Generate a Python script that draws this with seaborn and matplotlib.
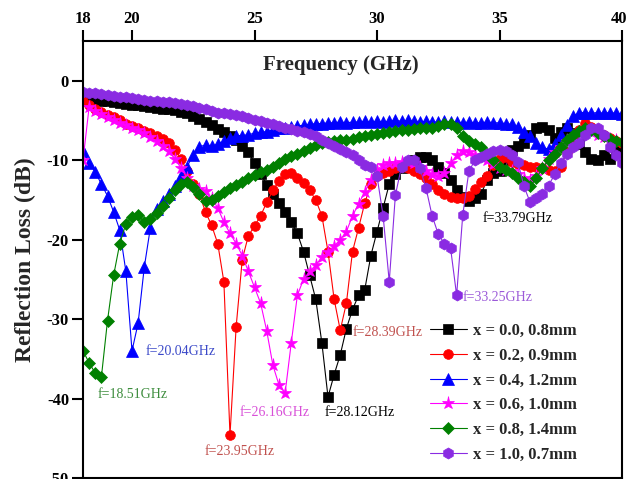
import numpy as np
import matplotlib
matplotlib.use("Agg")
import matplotlib.pyplot as plt
import matplotlib.transforms as mtransforms
import seaborn as sns

# frequency grid (GHz) and reflection loss (dB)
freq = np.arange(18, 40.01, 0.25)

rl_x00 = [-2.2, -2.3, -2.4, -2.5, -2.6, -2.7, -2.8, -2.9, -3.0, -3.1, -3.2, -3.3,
          -3.4, -3.5, -3.6, -3.7, -3.9, -4.1, -4.4, -4.8, -5.2, -5.6, -6.1, -6.5,
          -7.0, -7.5, -8.2, -9.0, -10.3, -11.7, -13.1, -14.3, -15.4, -16.5, -17.8, -19.2,
          -21.5, -24.5, -27.5, -33.0, -39.8, -37.0, -34.5, -31.2, -28.8, -27.0, -26.3, -22.0,
          -19.0, -16.0, -13.0, -11.8, -11.0, -10.5, -10.0, -9.6, -9.6, -10.0, -10.8, -11.6,
          -12.5, -13.7, -14.6, -15.1, -14.8, -14.2, -12.5, -11.6, -11.4, -10.0, -8.7, -8.2,
          -7.8, -6.8, -6.0, -5.8, -6.2, -7.2, -6.4, -6.0, -6.6, -8.0, -9.0, -9.8,
          -10.0, -9.4, -9.8, -8.6, -8.2]

rl_x02 = [-2.5, -3.0, -3.5, -3.9, -4.3, -4.6, -5.0, -5.4, -5.7, -6.0, -6.3, -6.6,
          -6.9, -7.3, -7.9, -8.7, -9.8, -11.4, -13.0, -14.3, -16.5, -18.2, -20.5, -25.3,
          -44.6, -31.0, -22.5, -19.5, -18.3, -17.0, -15.3, -13.8, -12.6, -11.8, -11.6, -12.2,
          -12.9, -13.8, -15.0, -17.0, -21.5, -27.5, -31.4, -28.0, -21.5, -18.5, -15.4, -13.0,
          -12.0, -11.6, -11.4, -11.0, -10.8, -11.0, -11.4, -11.8, -12.3, -13.0, -13.7, -14.3,
          -14.6, -14.8, -14.8, -14.5, -13.6, -12.8, -12.0, -10.6, -9.8, -9.6, -10.2, -10.5,
          -10.6, -10.8, -10.8, -11.0, -11.2, -11.4, -10.8, -9.0, -7.6, -6.2, -5.3, -5.8,
          -6.4, -6.8, -7.2, -7.6, -7.8]

rl_x04 = [-8.8, -10.3, -11.5, -13.0, -14.5, -16.5, -18.8, -24.0, -34.0, -30.5, -23.5, -18.5,
          -16.2, -15.2, -14.3, -13.3, -12.0, -10.8, -9.3, -8.3, -8.1, -8.2, -8.0, -7.6,
          -7.2, -7.0, -6.9, -6.8, -6.6, -6.5, -6.4, -6.2, -6.0, -5.9, -5.8, -5.7,
          -5.6, -5.5, -5.4, -5.4, -5.3, -5.3, -5.2, -5.3, -5.2, -5.2, -5.1, -5.2,
          -5.1, -5.2, -5.1, -5.0, -5.1, -5.0, -5.1, -5.2, -5.1, -5.2, -5.2, -5.1,
          -5.2, -5.2, -5.3, -5.2, -5.3, -5.3, -5.2, -5.3, -5.3, -5.4, -5.5, -5.8,
          -6.4, -7.0, -7.8, -8.4, -8.6, -8.0, -6.8, -5.6, -4.5, -4.0, -4.0, -4.1,
          -4.0, -4.1, -4.0, -4.1, -4.2]

rl_x06 = [-10.0, -3.3, -3.8, -4.2, -4.6, -5.0, -5.3, -5.6, -5.9, -6.2, -6.6, -7.1,
          -7.6, -8.2, -8.9, -9.8, -11.0, -12.2, -13.2, -13.6, -13.9, -14.8, -16.0, -17.8,
          -19.2, -20.5, -22.0, -24.0, -26.0, -28.0, -31.5, -35.8, -38.3, -39.3, -33.0, -27.0,
          -25.0, -24.0, -23.2, -22.2, -21.5, -20.8, -20.0, -19.0, -17.0, -15.5, -14.0, -12.5,
          -11.2, -10.6, -10.4, -10.3, -10.2, -10.2, -10.4, -10.8, -11.4, -11.8, -12.0, -11.6,
          -10.4, -9.4, -8.8, -9.0, -9.3, -9.6, -10.0, -10.5, -11.0, -11.2, -11.3, -11.8,
          -12.3, -12.5, -12.0, -11.0, -9.8, -9.0, -8.3, -7.6, -7.0, -6.6, -6.4, -6.5,
          -6.8, -7.1, -7.3, -7.4, -7.5]

rl_x08 = [-34.0, -35.5, -36.8, -37.3, -30.2, -24.5, -20.5, -18.0, -17.1, -16.9, -17.8, -17.4,
          -16.6, -15.8, -14.8, -13.8, -13.0, -12.7, -13.4, -14.3, -15.2, -15.0, -14.5, -14.0,
          -13.5, -13.1, -12.7, -12.3, -11.9, -11.5, -11.2, -10.8, -10.3, -9.9, -9.5, -9.2,
          -8.9, -8.5, -8.1, -7.9, -7.7, -7.6, -7.5, -7.4, -7.3, -7.1, -6.9, -6.8,
          -6.7, -6.6, -6.4, -6.3, -6.2, -6.2, -6.1, -6.0, -6.0, -5.9, -5.7, -5.5,
          -5.4, -6.0, -6.9, -7.6, -8.0, -8.4, -9.2, -10.0, -10.8, -11.2, -11.6, -12.2,
          -12.8, -13.3, -12.3, -11.0, -10.0, -9.2, -8.3, -7.5, -6.8, -6.3, -5.9, -6.2,
          -6.6, -7.0, -7.3, -7.6, -7.7]

rl_x10 = [-1.4, -1.5, -1.6, -1.7, -1.8, -1.9, -2.0, -2.1, -2.2, -2.3, -2.4, -2.5,
          -2.6, -2.7, -2.7, -2.8, -2.9, -3.0, -3.2, -3.4, -3.6, -3.8, -4.0, -4.1,
          -4.2, -4.3, -4.5, -4.7, -4.9, -5.1, -5.3, -5.5, -5.7, -5.9, -6.1, -6.3,
          -6.5, -6.7, -7.0, -7.4, -7.8, -8.2, -8.6, -9.0, -9.3, -10.0, -10.6, -10.8,
          -12.0, -17.0, -25.3, -14.4, -10.8, -10.0, -10.0, -11.0, -13.5, -17.0, -19.3, -20.5,
          -21.0, -27.0, -16.9, -11.4, -10.0, -9.6, -9.2, -8.9, -8.7, -8.8, -9.4, -10.2,
          -13.3, -15.3, -14.8, -14.2, -13.2, -11.8, -10.3, -9.2, -8.4, -7.8, -6.8, -6.0,
          -5.9, -6.8, -8.3, -9.4, -10.3]

labels = ["x = 0.0, 0.8mm", "x = 0.2, 0.9mm", "x = 0.4, 1.2mm",
          "x = 0.6, 1.0mm", "x = 0.8, 1.4mm", "x = 1.0, 0.7mm"]
series = [rl_x00, rl_x02, rl_x04, rl_x06, rl_x08, rl_x10]
colors = ["#000000", "#ff0000", "#0000ff", "#ff00ff", "#008000", "#8a2be2"]
markers = ["s", "o", "^", "*", "D", "h"]
msizes = [6.5, 7, 8, 9.5, 6, 8]

# peak annotations: text, position (GHz, dB), colour
ann_text = ["f=18.51GHz", "f=20.04GHz", "f=23.95GHz", "f=26.16GHz",
            "f=28.12GHz", "f=28.39GHz", "f=33.25GHz", "f=33.79GHz"]
ann_x = [18.6, 20.57, 22.98, 24.41, 27.88, 29.02, 33.51, 34.29]
ann_y = [-39.5, -34.1, -46.7, -41.8, -41.8, -31.7, -27.3, -17.3]
ann_color = ["#3c8c3c", "#3a48c8", "#c0504d", "#d84fd8",
             "#000000", "#c0504d", "#9b59d8", "#000000"]

sns.set_theme(style="ticks")
plt.rcParams["font.family"] = ["Liberation Serif", "DejaVu Serif"]
plt.rcParams["axes.unicode_minus"] = False

fig = plt.figure(figsize=(6.29, 4.79), dpi=100)
ax = fig.add_axes([83 / 629, 1 / 479, 539 / 629, 437 / 479])

for vals, lab, c, m, ms in zip(series, labels, colors, markers, msizes):
    sns.lineplot(x=freq, y=vals, ax=ax, color=c, marker=m, markersize=ms,
                 markeredgecolor=c, markeredgewidth=0.5, linewidth=0.8,
                 label=lab, sort=False)

for t, x, y, c in zip(ann_text, ann_x, ann_y, ann_color):
    ax.text(x, y, t, color=c, fontsize=10, ha="left", va="center")

ax.set_xlim(18, 40)
ax.set_ylim(-50, 5)
ax.set_xticks([18, 20, 25, 30, 35, 40])
ax.set_yticks([0, -10, -20, -30, -40, -50])

ax.xaxis.tick_top()
ax.xaxis.set_label_position("top")
ax.tick_params(axis="both", direction="out", length=8, width=1.5,
               labelsize=12, pad=2, color="black", labelcolor="black")
ax.tick_params(axis="x", bottom=False, top=True)
for lbl in ax.get_xticklabels() + ax.get_yticklabels():
    lbl.set_fontweight("bold")

# nudge the last top tick label so it stays inside the figure
last = ax.xaxis.get_major_ticks()[-1].label2
last.set_transform(last.get_transform() +
                   mtransforms.ScaledTranslation(-2 / 72, 0, fig.dpi_scale_trans))

for sp in ax.spines.values():
    sp.set_visible(True)
    sp.set_linewidth(1.5)
    sp.set_color("black")

ax.set_xlabel("Frequency (GHz)", fontsize=15, fontweight="bold")
ax.xaxis.set_label_coords(0.479, 0.945)
ax.xaxis.label.set_va("center")
ax.set_ylabel("Reflection Loss (dB)", fontsize=17, fontweight="bold")
ax.yaxis.set_label_coords(-0.106, 0.50)
ax.yaxis.label.set_va("center")

leg = ax.legend(loc="upper left", bbox_to_anchor=(0.644, 0.354), frameon=False,
                borderaxespad=0, borderpad=0, handlelength=2.2, handletextpad=0.4,
                labelspacing=0.52, numpoints=1,
                prop={"family": "Liberation Serif", "weight": "bold", "size": 12})

fig.savefig("out.png", dpi=100)
